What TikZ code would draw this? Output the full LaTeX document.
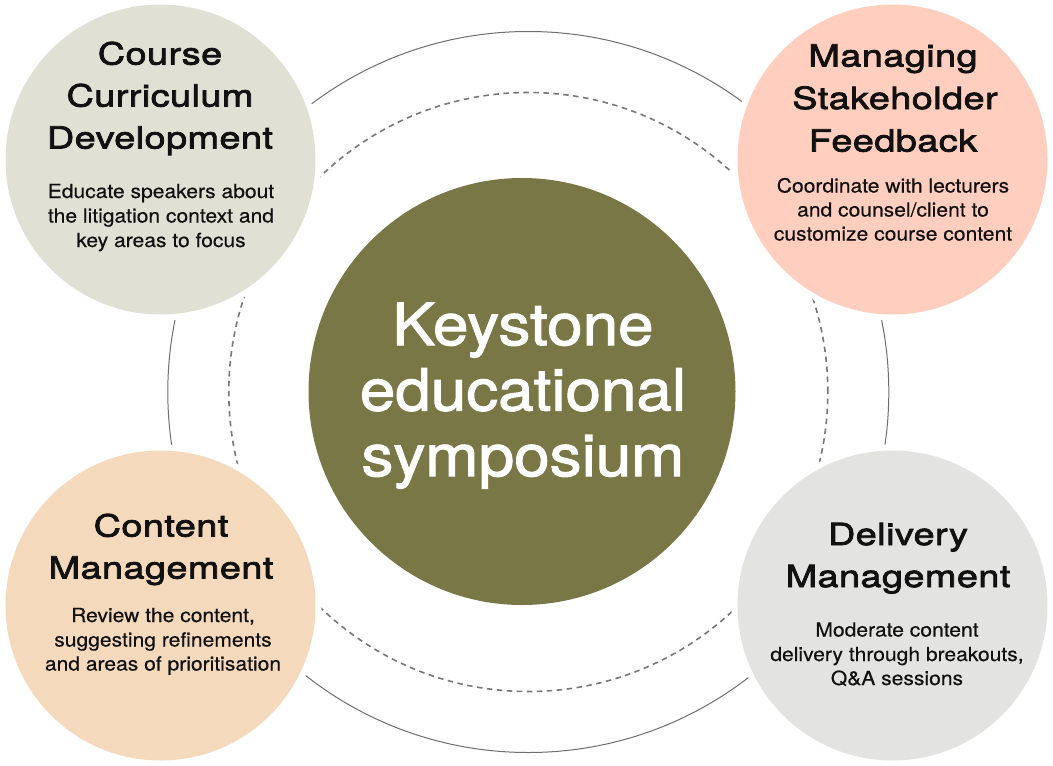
\documentclass[tikz,border=0pt]{standalone}
\usepackage{fontspec}
\setmainfont{TeX Gyre Heros}
\newfontfamily\headfont[FakeStretch=1.24,LetterSpace=1.5,FakeBold=2.5]{TeX Gyre Heros}
\newfontfamily\bodyfont[FakeStretch=1.08,FakeBold=0.4]{TeX Gyre Heros}
\newfontfamily\keyfont[FakeStretch=1.1,FakeBold=1.8]{TeX Gyre Heros}
\definecolor{ink}{HTML}{111111}
\definecolor{sage}{HTML}{E0E0D5}
\definecolor{blush}{HTML}{FFCEBF}
\definecolor{sand}{HTML}{F4D9BC}
\definecolor{mist}{HTML}{E3E3E2}
\definecolor{olive}{HTML}{7A7746}
\definecolor{ringgray}{HTML}{6E6E6E}
\definecolor{dashgray}{HTML}{777777}
\begin{document}
\begin{tikzpicture}[x=1pt,y=-1pt,
  bubble/.style={circle, inner sep=0pt, minimum size=310pt, preaction={draw=white, line width=12pt}},
  headtxt/.style={anchor=base, inner sep=0pt, font=\headfont\fontsize{30.5}{42}\selectfont, text=ink},
  bodytxt/.style={anchor=base, inner sep=0pt, font=\bodyfont\fontsize{19.5}{24}\selectfont, text=ink},
  keytxt/.style={anchor=base, inner sep=0pt, font=\keyfont\fontsize{58}{66}\selectfont, text=white},
  ring/.style={draw=ringgray, line width=1pt},
  dashring/.style={draw=dashgray, line width=1.6pt, dash pattern=on 5.5pt off 4.5pt}
]
\fill[white] (0,0) rectangle (1053,766);
\useasboundingbox (0,0) rectangle (1053,766);

\coordinate (ringc) at (528.3,392);
\draw[ring] (ringc) circle[radius=360.5pt];
\draw[dashring] (ringc) circle[radius=299.5pt];

% centre
\node[circle, inner sep=0pt, minimum size=427pt, fill=olive] (hub) at (522,391.5) {};
\node[keytxt] (k1) at (523,345) {Keystone};
\node[keytxt] (k2) at (523,410.5) {educational};
\node[keytxt] (k3) at (523,476) {symposium};

% top left
\node[bubble, fill=sage] (tl) at (160.5,159.5) {};
\node[headtxt] (tlh1) at (160,64.5) {Course};
\node[headtxt] (tlh2) at (160,106.5) {Curriculum};
\node[headtxt] (tlh3) at (160,148.5) {Development};
\node[bodytxt] (tlb1) at (161,198) {Educate speakers about};
\node[bodytxt] (tlb2) at (161,222.5) {the litigation context and};
\node[bodytxt] (tlb3) at (161,247) {key areas to focus};

% top right
\node[bubble, fill=blush] (tr) at (892.5,159.5) {};
\node[headtxt] (trh1) at (893,66.5) {Managing};
\node[headtxt] (trh2) at (895,109) {Stakeholder};
\node[headtxt] (trh3) at (893,151.5) {Feedback};
\node[bodytxt] (trb1) at (893,192.5) {Coordinate with lecturers};
\node[bodytxt] (trb2) at (893,216.5) {and counsel/client to};
\node[bodytxt] (trb3) at (893,240.5) {customize course content};

% bottom left
\node[bubble, fill=sand] (bl) at (160.5,605.5) {};
\node[headtxt] (blh1) at (161,536.5) {Content};
\node[headtxt] (blh2) at (161,578.5) {Management};
\node[bodytxt] (blb1) at (163,622) {Review the content,};
\node[bodytxt] (blb2) at (163,646.5) {suggesting refinements};
\node[bodytxt] (blb3) at (163,670.5) {and areas of prioritisation};

% bottom right
\node[bubble, fill=mist] (br) at (892.5,605.5) {};
\node[headtxt] (brh1) at (898,545) {Delivery};
\node[headtxt] (brh2) at (898,587) {Management};
\node[bodytxt] (brb1) at (897,636.5) {Moderate content};
\node[bodytxt] (brb2) at (897,661) {delivery through breakouts,};
\node[bodytxt] (brb3) at (897,685) {Q\&A sessions};
\end{tikzpicture}
\end{document}
